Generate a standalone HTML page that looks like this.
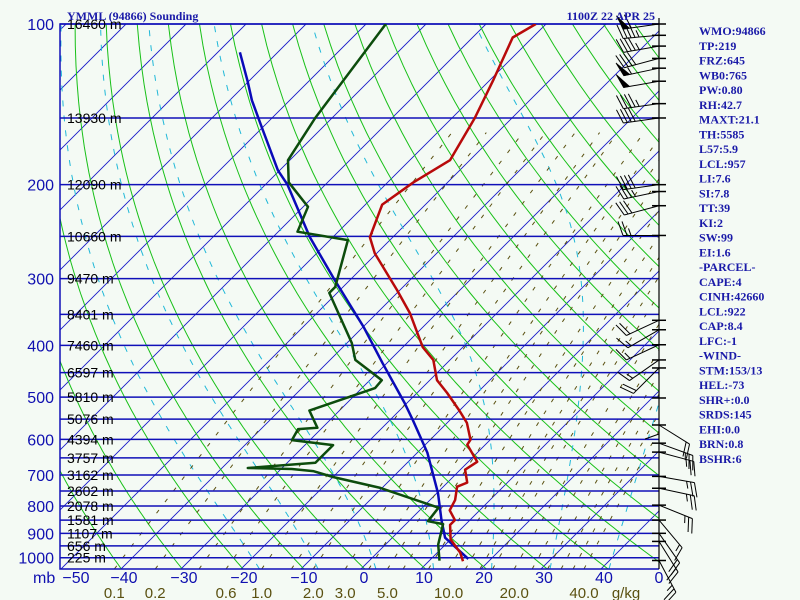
<!DOCTYPE html>
<html><head><meta charset="utf-8">
<style>
html,body{margin:0;padding:0;background:#f4faf4;}
svg{display:block;}
.ttl{font-family:"Liberation Serif",serif;font-weight:bold;font-size:12px;fill:#1a1aa8;}
.pl{font-family:"Liberation Sans",sans-serif;font-size:16px;fill:#1010b0;}
.hl{font-family:"Liberation Sans",sans-serif;font-size:14px;fill:#000;}
.ml{font-family:"Liberation Sans",sans-serif;font-size:15px;fill:#5a5010;}
</style></head>
<body>
<svg id="chart" xmlns="http://www.w3.org/2000/svg" width="800" height="600" viewBox="0 0 800 600">
<rect x="0" y="0" width="800" height="600" fill="#f4faf4"/>
<defs><clipPath id="pc"><rect x="60" y="24" width="599" height="545"/></clipPath></defs>
<g id="bg" clip-path="url(#pc)"></g>
<g id="iso"></g>
<g id="series" clip-path="url(#pc)"></g>
<g id="wind"></g>
<g id="labels"></g>
<text class="ttl" x="67" y="20">YMML (94866) Sounding</text>
<text class="ttl" x="655" y="20" text-anchor="end">1100Z 22 APR 25</text>
<g id="indices"></g>
</svg>
<script>
const pressureTicks=[100,200,300,400,500,600,700,800,900,1000];
const heightP=[100,150,200,250,300,350,400,450,500,550,600,650,700,750,800,850,900,950,1000];
const heightLabels=["16460 m","13930 m","12090 m","10660 m","9470 m","8401 m","7460 m","6597 m","5810 m","5076 m","4394 m","3757 m","3162 m","2602 m","2078 m","1581 m","1107 m","656 m","225 m"];
const tempTicks=[-40,-30,-20,-10,0,10,20,30,40];
const mixLabels=[0.1,0.2,0.6,1.0,2.0,3.0,5.0,10.0,20.0,40.0];
const mixLines=[0.1,0.2,0.4,0.6,1,1.5,2,3,4,5,6,8,10,12,14,16,20,24,28,32,36,40];
const tempP=[100,106,127,150,180,198,218,251,269,315,348,403,426,465,491,530,559,601,614,661,684,723,736,780,815,850,868,924,978,1015];
const tempT=[-61.7,-63.3,-59.5,-56.2,-53.3,-55.7,-57.2,-53.8,-50.3,-40.5,-34.5,-26.7,-22.8,-18.8,-15,-10,-6.7,-3.3,-3,1.5,0.8,3.3,2.3,4.2,5,7.5,7.5,10,13.8,15.7];
const dewP=[100,150,180,198,220,245,254,311,319,396,426,465,481,530,571,574,602,615,664,679,682,688,706,740,806,854,865,945,1013];
const dewT=[-86.7,-82.8,-80.3,-76.5,-69.2,-66.8,-57,-51.3,-51.3,-39.2,-35.8,-28,-27.8,-35,-30.8,-33.8,-33,-25.3,-25.3,-35.7,-28.2,-24.3,-20,-10.3,2.7,3.2,6.2,8.8,11.7];
const parcelP=[1005,917,851,757,636,552,512,432,369,302,251,200,188,156,139,128,113];
const parcelT=[16.2,8.8,5.3,0.2,-8.3,-16.2,-20.5,-30.7,-40,-52.5,-63.8,-76.3,-80.3,-90.2,-96.3,-100.2,-106.3];
const windP=[100,105,110,116,121,128,141,150,200,206,219,249,359,374,399,426,441,502,564,610,634,704,741,797,850,900,932,1012];
const windDir=[262,265,260,255,258,260,262,262,262,258,255,270,245,240,245,235,225,180,122,110,105,100,102,112,140,145,148,152];
const windSpd=[60,45,45,40,55,50,45,40,40,35,30,25,20,15,15,15,20,10,20,25,25,25,25,25,15,20,20,25];
const indexText=["WMO:94866","TP:219","FRZ:645","WB0:765","PW:0.80","RH:42.7","MAXT:21.1","TH:5585","L57:5.9","LCL:957","LI:7.6","SI:7.8","TT:39","KI:2","SW:99","EI:1.6","-PARCEL-","CAPE:4","CINH:42660","LCL:922","CAP:8.4","LFC:-1","-WIND-","STM:153/13","HEL:-73","SHR+:0.0","SRDS:145","EHI:0.0","BRN:0.8","BSHR:6"];

const NS='http://www.w3.org/2000/svg';
const K=231.8, TOP=24, BOT=569, X0=361;
const PB=100*Math.exp((BOT-TOP)/K);
function yP(p){return TOP+K*Math.log(p/100);}
function xT(T,p){return X0+6*T+(BOT-yP(p));}
function mk(tag,a,parent){const e=document.createElementNS(NS,tag);for(const k in a)e.setAttribute(k,a[k]);parent.appendChild(e);return e;}
function ptsStr(arr){return arr.map(q=>q[0].toFixed(1)+','+q[1].toFixed(1)).join(' ');}
const bg=document.getElementById('bg'),iso=document.getElementById('iso'),ser=document.getElementById('series'),wg=document.getElementById('wind'),lab=document.getElementById('labels'),ind=document.getElementById('indices');

// isotherms
for(let T=-170;T<=50;T+=10){
  const el=mk('line',{x1:xT(T,PB),y1:BOT,x2:xT(T,100),y2:TOP,stroke:'#1818c8','stroke-width':0.9},bg);
  
  
}
// dry adiabats
for(let th=200;th<=500;th+=10){
  const pts=[];
  for(let p=PB;p>=99;p-=10){const T=th*Math.pow(p/1000,0.2857)-273.15;pts.push([xT(T,p),yP(p)]);}
  const el=mk('polyline',{points:ptsStr(pts),fill:'none',stroke:'#18c018','stroke-width':1},bg);
  
  
}
// moist adiabats
function es(T){return 6.112*Math.exp(17.67*T/(T+243.5));}
function dTdp(T,p){const Tk=T+273.15,e=es(T),rs=0.622*e/(p-e);return (287*Tk+2.5e6*rs)/(p*(1004+2.5e6*2.5e6*rs*0.622/(287*Tk*Tk)));}
[-20,-10,0,10,20,30,40].forEach(tw=>{
  const up=[];let T=tw;
  for(let p=1000;p>=100;p-=2){up.push([xT(T,p),yP(p)]);T-=dTdp(T,p)*2;}
  const dn=[];T=tw;
  for(let p=1000;p<=PB+2;p+=2){dn.unshift([xT(T,p),yP(p)]);T+=dTdp(T,p)*2;}
  const el=mk('polyline',{points:ptsStr(dn.concat(up)),fill:'none',stroke:'#20b8d8','stroke-width':1,'stroke-dasharray':'6 9'},bg);
  
  
});
// mixing ratio lines
function tdFromW(w,p){const e=w*p/(622+w);const l=Math.log(e/6.112);return 243.5*l/(17.67-l);}
mixLines.forEach(w=>{
  const pts=[];
  for(let p=PB;p>=150;p-=10){pts.push([xT(tdFromW(w,p),p),yP(p)]);}
  const el=mk('polyline',{points:ptsStr(pts),fill:'none',stroke:'#5a5010','stroke-width':1,'stroke-dasharray':'4 10'},bg);
  
  
});
// isobars
heightP.forEach(p=>{
  const el=mk('line',{x1:60,y1:yP(p),x2:659,y2:yP(p),stroke:'#1010b8','stroke-width':1.5},iso);
  
  
});
// frame
const fr=mk('polyline',{points:'659,24 60,24 60,569 659,569',fill:'none',stroke:'#1010b8','stroke-width':1.5},iso);


const wax=mk('line',{x1:659,y1:18,x2:659,y2:569,stroke:'#000','stroke-width':1.2},iso);



// series
function series(P,T,color,name){
  const pts=P.map((p,i)=>[xT(T[i],p),yP(p)]);
  const el=mk('polyline',{points:ptsStr(pts),fill:'none',stroke:color,'stroke-width':2.5,'stroke-linejoin':'round'},ser);
  
  
}
series(parcelP,parcelT,'#0a0ab8','parcel-trace');
series(dewP,dewT,'#0c4c0c','dewpoint-line');
series(tempP,tempT,'#b80a0a','temperature-line');

// wind barbs
windP.forEach((p,i)=>{
  const y0=yP(p),x0=659,d=windDir[i]*Math.PI/180;
  const ux=Math.sin(d),uy=-Math.cos(d);
  const px=-uy,py=ux;
  const tk=mk('line',{x1:652,y1:y0,x2:666,y2:y0,stroke:'#000','stroke-width':1.5},wg);
  
  
  const L=36,ex=x0+L*ux,ey=y0+L*uy;
  const st=mk('line',{x1:x0,y1:y0,x2:ex,y2:ey,stroke:'#000','stroke-width':1},wg);
  
  
  let s=windSpd[i],pos=0;
  const bx=px*14+ux*5,by=py*14+uy*5;
  while(s>=50){
    const ax=ex-pos*ux,ay=ey-pos*uy;
    const f=mk('polygon',{points:`${ax},${ay} ${ax+bx},${ay+by} ${ax-6*ux},${ay-6*uy}`,fill:'#000',stroke:'#000','stroke-width':0.8},wg);
    
    
    pos+=8;s-=50;
  }
  while(s>=10){
    const ax=ex-pos*ux,ay=ey-pos*uy;
    const b=mk('line',{x1:ax,y1:ay,x2:ax+bx,y2:ay+by,stroke:'#000','stroke-width':1},wg);
    
    
    pos+=4;s-=10;
  }
  if(s>=5){
    const ax=ex-pos*ux,ay=ey-pos*uy;
    const b=mk('line',{x1:ax,y1:ay,x2:ax+bx/2,y2:ay+by/2,stroke:'#000','stroke-width':1},wg);
    
    
  }
});

// labels
pressureTicks.forEach(p=>{
  const t=mk('text',{x:54,y:yP(p)+6,'text-anchor':'end',class:'pl'},lab);
  t.textContent=String(p);
  
  
});
heightP.forEach((p,i)=>{
  const t=mk('text',{x:67,y:yP(p)+5,class:'hl'},lab);
  t.textContent=heightLabels[i];
  
  
});
const mb=mk('text',{x:33,y:583,class:'pl'},lab);
mb.textContent='mb';


const m50=mk('text',{x:76,y:583,'text-anchor':'middle',class:'pl'},lab);
m50.textContent='−50';


tempTicks.forEach(T=>{
  const t=mk('text',{x:xT(T,PB)+3,y:583,'text-anchor':'middle',class:'pl'},lab);
  t.textContent=T<0?'−'+(-T):String(T);
  
  
});
const w0=mk('text',{x:659,y:583,'text-anchor':'middle',class:'pl'},lab);
w0.textContent='0';


mixLabels.forEach(w=>{
  const t=mk('text',{x:xT(tdFromW(w,PB),PB),y:598,'text-anchor':'middle',class:'ml'},lab);
  t.textContent=w.toFixed(1);
  
  
});
const gk=mk('text',{x:626,y:598,'text-anchor':'middle',class:'ml'},lab);
gk.textContent='g/kg';


indexText.forEach((s,i)=>{
  const t=mk('text',{x:699,y:35+i*14.75,class:'ttl'},ind);
  t.textContent=s;
  
  
});
</script>
</body></html>
